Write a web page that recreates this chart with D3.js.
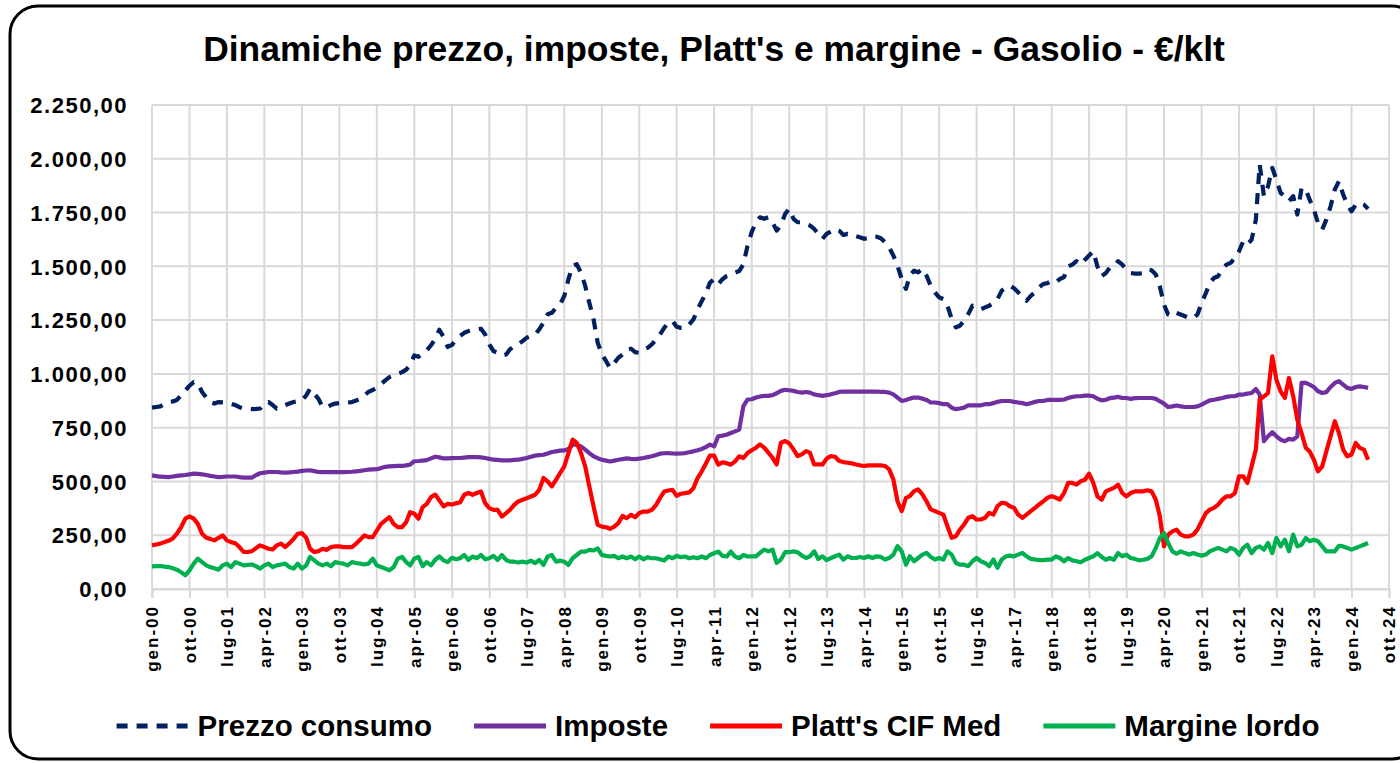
<!DOCTYPE html>
<html><head><meta charset="utf-8">
<script src="https://cdn.jsdelivr.net/npm/d3@7"></script>
<style>
body{margin:0;background:#fff}
svg{display:block}
text{font-family:"Liberation Sans",Arial,sans-serif;font-weight:bold;fill:#000}
</style>
</head><body>
<svg id="c" width="1400" height="763"></svg>
<script>
const chartTitle = "Dinamiche prezzo, imposte, Platt's e margine - Gasolio - €/klt";
const seriesNames = ["Prezzo consumo", "Imposte", "Platt's CIF Med", "Margine lordo"];
const firstMonth = "gen-00";
const monthAbbr = ["gen","feb","mar","apr","mag","giu","lug","ago","set","ott","nov","dic"];

const prezzo = [
843,846,849,860,869,872,879,900,923,945,
962,955,916,890,869,862,869,868,867,860,
855,845,839,837,836,837,839,862,869,855,
839,845,855,862,869,873,877,900,931,908,
884,846,846,855,862,864,865,867,869,876,
884,900,916,925,936,952,970,985,993,1000,
1008,1020,1040,1086,1079,1095,1109,1133,1163,1205,
1171,1125,1135,1160,1176,1191,1199,1204,1207,1210,
1183,1137,1106,1098,1086,1090,1114,1129,1137,1152,
1168,1176,1183,1207,1238,1277,1284,1308,1323,1362,
1440,1502,1510,1471,1409,1331,1253,1145,1090,1059,
1028,1051,1075,1090,1114,1117,1101,1098,1114,1121,
1137,1160,1183,1214,1238,1246,1219,1214,1214,1230,
1253,1300,1339,1377,1424,1440,1417,1440,1455,1463,
1471,1478,1510,1595,1660,1705,1728,1721,1728,1705,
1666,1690,1744,1767,1721,1705,1705,1697,1690,1674,
1651,1628,1651,1662,1674,1666,1646,1651,1643,1640,
1635,1628,1631,1640,1638,1631,1612,1589,1550,1503,
1441,1395,1457,1480,1472,1488,1457,1410,1379,1356,
1348,1317,1255,1216,1224,1247,1278,1317,1309,1301,
1309,1317,1329,1348,1387,1402,1410,1398,1379,1356,
1340,1363,1379,1402,1418,1422,1433,1426,1441,1450,
1500,1508,1524,1508,1531,1550,1570,1500,1454,1469,
1493,1500,1524,1508,1485,1469,1466,1466,1469,1485,
1482,1462,1407,1322,1276,1268,1283,1276,1268,1260,
1260,1276,1330,1376,1423,1446,1454,1485,1508,1516,
1539,1570,1617,1601,1624,1717,1973,1826,1872,1958,
1903,1841,1826,1803,1826,1741,1865,1857,1810,1764,
1702,1671,1717,1779,1857,1896,1834,1787,1756,1787,
1795,1787,1767];

const imposte = [
528,525,522,521,520,523,526,528,530,533,
536,535,533,530,526,523,520,521,523,523,
523,520,518,518,518,530,538,541,544,544,
544,542,541,542,544,546,549,551,552,548,
544,543,543,543,543,543,543,544,545,547,
549,552,555,556,557,562,568,570,571,572,
572,575,578,594,595,597,599,607,615,612,
607,607,608,609,609,611,613,613,613,612,
609,605,601,600,598,598,598,600,601,605,
609,615,620,622,624,630,637,640,643,644,
651,671,671,663,648,632,617,608,601,597,
593,597,601,604,607,605,604,606,609,613,
617,623,629,631,632,630,629,630,632,636,
640,645,651,660,671,663,710,713,717,725,
733,741,850,881,882,890,895,898,898,901,
910,921,926,924,921,916,913,916,913,905,
901,898,901,905,910,916,918,918,918,918,
918,918,918,918,918,916,916,913,905,890,
874,879,885,890,890,885,879,867,867,864,
859,859,843,836,839,843,854,854,854,854,
859,859,864,870,874,874,874,870,867,864,
859,864,870,874,874,879,879,879,879,881,
888,893,896,896,899,899,896,884,877,880,
887,890,893,888,888,884,887,888,888,888,
888,884,873,862,846,849,853,849,846,846,
846,849,857,868,877,880,884,888,893,896,
896,904,904,908,911,930,904,687,710,729,
710,694,687,698,694,710,958,958,950,939,
919,911,915,939,958,966,950,935,930,939,
942,939,935];

const platts = [
203,207,211,218,224,235,257,288,327,338,
327,303,257,238,233,226,238,249,226,218,
213,195,172,172,176,191,203,195,187,184,
203,211,195,213,233,257,260,238,187,172,
176,187,182,195,198,198,195,195,195,211,
229,249,241,241,272,303,319,334,303,288,
288,311,357,350,327,381,396,427,439,412,
384,396,393,399,402,438,446,438,446,453,
399,376,368,368,337,353,368,391,407,415,
422,430,438,461,516,500,477,508,539,570,
632,694,679,632,570,477,384,298,290,287,
280,290,306,340,329,345,334,353,360,360,
368,391,422,453,458,461,433,443,446,449,
469,516,547,585,620,620,578,589,585,578,
593,617,609,632,645,657,672,657,634,610,
579,680,688,677,649,618,626,641,634,579,
579,579,606,618,615,595,590,587,584,579,
575,572,575,575,575,575,572,556,509,408,
362,424,432,455,463,440,408,370,362,354,
346,292,238,245,276,300,331,339,323,323,
331,354,346,385,401,398,385,377,346,331,
346,362,377,393,408,424,432,424,416,446,
493,493,485,501,508,536,493,431,415,454,
462,470,485,446,431,446,454,454,454,459,
454,415,338,198,253,268,276,253,245,245,
253,276,315,353,369,377,392,415,431,431,
446,524,524,493,570,648,880,896,911,1082,
973,919,888,981,896,787,725,656,640,601,
547,570,640,710,780,725,648,617,625,679,
656,648,601];

const margine = [
105,106,107,104,102,96,90,78,64,87,
118,141,125,110,102,96,90,110,118,102,
125,118,110,112,114,105,95,110,118,102,
110,114,118,102,95,118,95,110,149,133,
118,110,118,106,125,121,118,110,125,121,
118,114,118,141,110,102,95,87,102,141,
149,125,110,141,149,106,125,110,136,151,
133,125,145,138,143,158,135,151,143,158,
138,143,154,135,158,135,127,127,123,127,
123,132,120,135,112,151,158,127,132,127,
112,143,158,174,174,182,179,189,158,154,
151,154,143,151,143,151,138,151,138,148,
143,143,138,132,151,143,154,148,151,143,
148,143,151,143,158,166,174,154,151,174,
151,143,158,151,152,152,168,183,175,183,
121,137,171,171,175,171,155,144,152,175,
140,152,134,144,152,160,137,152,144,144,
149,144,152,144,152,149,137,144,160,199,
175,113,152,129,144,160,168,149,137,144,
137,175,160,121,113,113,106,129,144,129,
121,106,137,98,137,152,155,152,160,168,
152,140,137,134,134,137,137,152,144,129,
144,133,129,124,136,144,152,167,149,136,
144,136,167,152,160,144,140,133,136,140,
152,191,237,260,214,175,164,175,167,160,
167,160,155,160,175,183,191,183,175,191,
183,160,191,206,167,191,198,183,214,167,
237,198,229,175,253,198,206,237,222,229,
222,198,175,175,175,201,198,191,183,191,
198,206,214];

const tickLabels = ["gen-00","ott-00","lug-01","apr-02","gen-03","ott-03","lug-04","apr-05","gen-06","ott-06",
"lug-07","apr-08","gen-09","ott-09","lug-10","apr-11","gen-12","ott-12","lug-13","apr-14",
"gen-15","ott-15","lug-16","apr-17","gen-18","ott-18","lug-19","apr-20","gen-21","ott-21",
"lug-22","apr-23","gen-24","ott-24"];
const yTicks = [0,250,500,750,1000,1250,1500,1750,2000,2250];

// ---------- rendering ----------
const parseLabel = s => { const [m, y] = s.split("-"); return new Date(2000 + (+y), monthAbbr.indexOf(m), 1); };
const start = parseLabel(firstMonth);
const dates = prezzo.map((_, i) => new Date(start.getFullYear(), start.getMonth() + i, 1));
const tickDates = tickLabels.map(parseLabel);

const it = d3.formatLocale({decimal: ",", thousands: ".", grouping: [3], currency: ["€", ""]});
const fmt = it.format(",.2f");

const svg = d3.select("#c");
const plot = {left: 152, right: 1389, top: 105, bottom: 589};

const x = d3.scaleTime().domain([tickDates[0], tickDates[tickDates.length - 1]]).range([plot.left, plot.right]);
const y = d3.scaleLinear().domain([0, 2250]).range([plot.bottom, plot.top]);

// frame
svg.append("rect").attr("x", 10).attr("y", 6).attr("width", 1410).attr("height", 753)
  .attr("rx", 28).attr("fill", "#fff").attr("stroke", "#000").attr("stroke-width", 3);

// title
const t = svg.append("text").attr("x", 714).attr("y", 61).attr("text-anchor", "middle")
  .style("font-size", "32px").text(chartTitle);
const tw = t.node().getComputedTextLength();
t.style("font-size", (32 * 1022 / tw).toFixed(2) + "px");

// grid
const grid = svg.append("g").attr("stroke", "#D9D9D9").attr("stroke-width", 2);
grid.selectAll("line.h").data(yTicks).join("line").attr("class", "h")
  .attr("x1", plot.left).attr("x2", plot.right).attr("y1", d => y(d)).attr("y2", d => y(d));
grid.selectAll("line.v").data(tickDates).join("line").attr("class", "v")
  .attr("x1", d => x(d)).attr("x2", d => x(d)).attr("y1", plot.top).attr("y2", plot.bottom);

// x axis
const xAxis = d3.axisBottom(x).tickValues(tickDates).tickSize(9)
  .tickFormat((d, i) => tickLabels[i]);
const gx = svg.append("g").attr("transform", `translate(0,${plot.bottom})`).call(xAxis);
gx.select(".domain").attr("stroke", "#D9D9D9").attr("stroke-width", 2);
gx.selectAll(".tick line").attr("stroke", "#D9D9D9").attr("stroke-width", 2);
gx.selectAll(".tick text")
  .attr("fill", "#000").attr("transform", "rotate(-90)")
  .attr("text-anchor", "end").attr("x", -16).attr("y", 0).attr("dy", "0.35em")
  .style("font-size", "17px").style("letter-spacing", "2px")
  .style("font-family", "'Liberation Sans',Arial,sans-serif").style("font-weight", "bold");

// y axis labels
const yAxis = d3.axisLeft(y).tickValues(yTicks).tickSize(0).tickPadding(0).tickFormat(fmt);
const gy = svg.append("g").attr("transform", "translate(128,0)").call(yAxis);
gy.select(".domain").remove();
gy.selectAll(".tick text").attr("fill", "#000").attr("dy", "0.35em")
  .style("font-size", "22px").style("letter-spacing", "1.5px")
  .style("font-family", "'Liberation Sans',Arial,sans-serif").style("font-weight", "bold");

// series
const series = [
  {name: seriesNames[0], values: prezzo, color: "#002060", dash: "11,9"},
  {name: seriesNames[1], values: imposte, color: "#7030A0", dash: null},
  {name: seriesNames[2], values: platts, color: "#FF0000", dash: null},
  {name: seriesNames[3], values: margine, color: "#00B050", dash: null}
];
const line = d3.line().x((d, i) => x(dates[i])).y(d => y(d));
svg.append("g").selectAll("path").data(series).join("path")
  .attr("d", d => line(d.values)).attr("fill", "none")
  .attr("stroke", d => d.color).attr("stroke-width", 4.2)
  .attr("stroke-linejoin", "round")
  .attr("stroke-dasharray", d => d.dash);

// legend
const lg = svg.append("g");
const ly = 726, lineLen = 72, gapText = 9, gapItem = 42;
const items = series.map(s => {
  const g = lg.append("g");
  g.append("line").attr("x1", 0).attr("x2", lineLen).attr("y1", ly).attr("y2", ly)
    .attr("stroke", s.color).attr("stroke-width", 5).attr("stroke-dasharray", s.dash);
  const tx = g.append("text").attr("x", lineLen + gapText).attr("y", ly).attr("dy", "0.35em")
    .style("font-size", "29.5px").text(s.name);
  return {g, w: lineLen + gapText + tx.node().getComputedTextLength()};
});
const total = d3.sum(items, d => d.w) + gapItem * (items.length - 1);
let cx = 718 - total / 2;
items.forEach(d => { d.g.attr("transform", `translate(${cx},0)`); cx += d.w + gapItem; });
</script>
</body></html>
